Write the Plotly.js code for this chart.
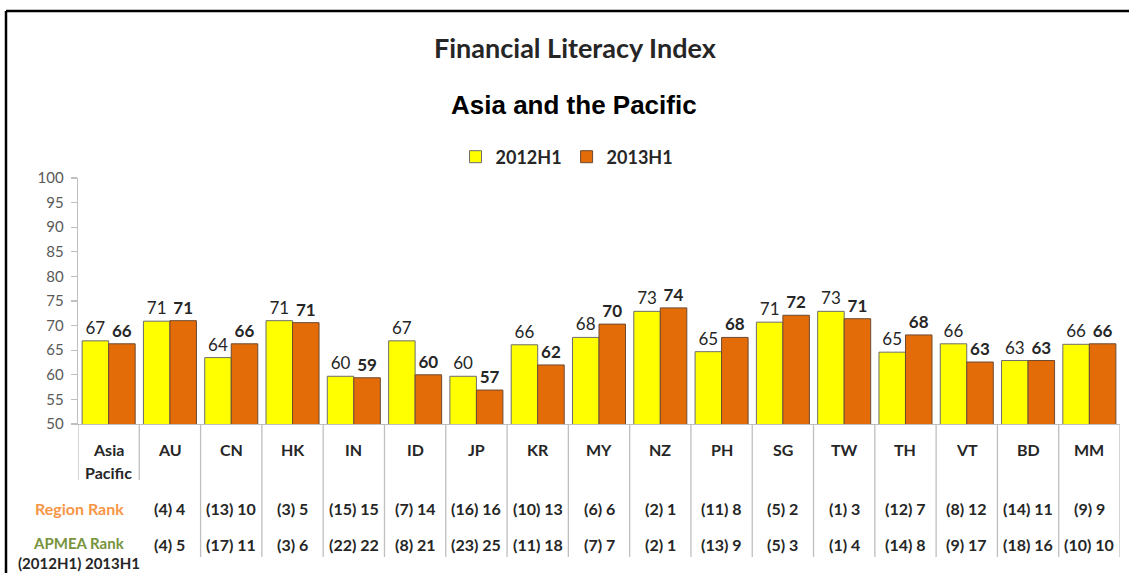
<!DOCTYPE html>
<html>
<head>
<meta charset="utf-8">
<script src="https://cdn.plot.ly/plotly-3.0.1.min.js"></script>
<style>
  html, body { margin: 0; padding: 0; background: #ffffff; }
  #chart { width: 1129px; height: 573px; }
</style>
</head>
<body>
<div id="chart"></div>
<script>
// ---------- data ----------
const categories = ['Asia Pacific','AU','CN','HK','IN','ID','JP','KR','MY','NZ','PH','SG','TW','TH','VT','BD','MM'];
const values2012 = [66.9, 70.9, 63.5, 71.0, 59.7, 66.9, 59.7, 66.1, 67.6, 72.9, 64.7, 70.7, 72.9, 64.6, 66.3, 62.9, 66.2];
const values2013 = [66.3, 71.0, 66.3, 70.6, 59.4, 60.0, 56.9, 62.0, 70.3, 73.6, 67.6, 72.1, 71.4, 68.1, 62.6, 62.9, 66.3];
const labels2012 = [67, 71, 64, 71, 60, 67, 60, 66, 68, 73, 65, 71, 73, 65, 66, 63, 66];
const labels2013 = [66, 71, 66, 71, 59, 60, 57, 62, 70, 74, 68, 72, 71, 68, 63, 63, 66];
const regionRank2012 = [null, 4, 13, 3, 15, 7, 16, 10, 6, 2, 11, 5, 1, 12, 8, 14, 9];
const regionRank2013 = [null, 4, 10, 5, 15, 14, 16, 13, 6, 1, 8, 2, 3, 7, 12, 11, 9];
const apmeaRank2012  = [null, 4, 17, 3, 22, 8, 23, 11, 7, 2, 13, 5, 1, 14, 9, 18, 10];
const apmeaRank2013  = [null, 5, 11, 6, 22, 21, 25, 18, 7, 1, 9, 3, 4, 8, 17, 16, 10];
const seriesNames = ['2012H1', '2013H1'];
const yTicks = [50, 55, 60, 65, 70, 75, 80, 85, 90, 95, 100];

// ---------- styling ----------
const W = 1129, H = 573;
const M = {l: 78, r: 9, t: 178, b: 149};
const plotW = W - M.l - M.r, plotH = H - M.t - M.b;
const px2x = px => (px - M.l) / plotW;          // pixel -> paper x
const px2y = py => (H - M.b - py) / plotH;      // pixel -> paper y
const FONT = 'Lato, "Open Sans", sans-serif';
const DARK = '#262626';
const GRID = '#bfbfbf';

const xIdx = categories.map((c, i) => i);

const traces = [
  {
    type: 'bar', name: seriesNames[0], x: xIdx, y: values2012,
    marker: {color: '#ffff00', line: {color: '#6d6d6d', width: 1}},
    text: labels2012.map(String), textposition: 'outside', cliponaxis: false,
    textfont: {family: FONT, size: 17, color: DARK}, hoverinfo: 'x+y'
  },
  {
    type: 'bar', name: seriesNames[1], x: xIdx, y: values2013,
    marker: {color: '#e36c09', line: {color: '#6d4a30', width: 1}},
    text: labels2013.map(v => '<b>' + v + '</b>'), textposition: 'outside', cliponaxis: false,
    textfont: {family: FONT, size: 17, color: DARK}, hoverinfo: 'x+y'
  }
];

const annotations = [];
// titles
annotations.push({xref: 'paper', yref: 'paper', x: px2x(575), y: px2y(47), xanchor: 'center', yanchor: 'middle',
  text: '<b>Financial Literacy Index</b>', showarrow: false, font: {family: FONT, size: 27, color: DARK}});
annotations.push({xref: 'paper', yref: 'paper', x: px2x(574), y: px2y(105), xanchor: 'center', yanchor: 'middle',
  text: '<b>Asia and the Pacific</b>', showarrow: false, font: {family: '"Liberation Sans", Arial, sans-serif', size: 26, color: '#000000'}});

// category labels (each word on its own line)
categories.forEach((c, i) => {
  c.split(' ').forEach((w, k) => {
    annotations.push({xref: 'x', yref: 'paper', x: i, y: px2y(449 + 23 * k), xanchor: 'center', yanchor: 'middle',
      text: '<b>' + w + '</b>', showarrow: false, font: {family: FONT, size: 16, color: DARK}});
  });
});
// rank rows
categories.forEach((c, i) => {
  if (regionRank2013[i] !== null) {
    annotations.push({xref: 'x', yref: 'paper', x: i, y: px2y(508), xanchor: 'center', yanchor: 'middle',
      text: '<b>(' + regionRank2012[i] + ') ' + regionRank2013[i] + '</b>', showarrow: false,
      font: {family: FONT, size: 16, color: DARK}});
  }
  if (apmeaRank2013[i] !== null) {
    annotations.push({xref: 'x', yref: 'paper', x: i, y: px2y(544), xanchor: 'center', yanchor: 'middle',
      text: '<b>(' + apmeaRank2012[i] + ') ' + apmeaRank2013[i] + '</b>', showarrow: false,
      font: {family: FONT, size: 16, color: DARK}});
  }
});
annotations.push({xref: 'paper', yref: 'paper', x: px2x(79), y: px2y(508), xanchor: 'center', yanchor: 'middle',
  text: '<b>Region Rank</b>', showarrow: false, font: {family: FONT, size: 16, color: '#f79646'}});
annotations.push({xref: 'paper', yref: 'paper', x: px2x(79), y: px2y(543), xanchor: 'center', yanchor: 'middle',
  text: '<b>APMEA Rank</b>', showarrow: false, font: {family: FONT, size: 15, color: '#77933c'}});
annotations.push({xref: 'paper', yref: 'paper', x: px2x(79), y: px2y(563), xanchor: 'center', yanchor: 'middle',
  text: '<b>(2012H1) 2013H1</b>', showarrow: false, font: {family: FONT, size: 15, color: DARK}});

// separators below the axis (category boundaries)
const shapes = [];
for (let i = 0; i <= categories.length; i++) {
  const bottom = (i <= 1) ? 480 : 557;
  shapes.push({type: 'line', xref: 'x', yref: 'paper', x0: i - 0.5, x1: i - 0.5, y0: 0, y1: px2y(bottom),
    line: {color: GRID, width: 1.3}});
}
// outer frame (top and left visible)
shapes.push({type: 'line', xref: 'paper', yref: 'paper', x0: px2x(6), x1: px2x(1135), y0: px2y(11), y1: px2y(11),
  line: {color: '#000000', width: 2.5}});
shapes.push({type: 'line', xref: 'paper', yref: 'paper', x0: px2x(6), x1: px2x(6), y0: px2y(11), y1: px2y(580),
  line: {color: '#000000', width: 2.5}});

const layout = {
  width: W, height: H,
  margin: M,
  paper_bgcolor: '#ffffff', plot_bgcolor: '#ffffff',
  barmode: 'group', bargap: 0.135, bargroupgap: 0,
  showlegend: true,
  legend: {orientation: 'h', x: px2x(567), y: px2y(157), xanchor: 'center', yanchor: 'middle',
    font: {family: FONT, size: 18, color: DARK, weight: 'bold'}, itemwidth: 30, bgcolor: 'rgba(0,0,0,0)'},
  xaxis: {
    type: 'linear', range: [-0.5, categories.length - 0.5], showticklabels: false, ticks: '',
    showgrid: false, zeroline: false, showline: true, linecolor: GRID, linewidth: 1.3, fixedrange: true
  },
  yaxis: {
    range: [50, 100], tickvals: yTicks, ticks: 'outside', ticklen: 6, tickcolor: GRID, tickwidth: 1.3,
    showline: true, linecolor: GRID, linewidth: 1.3, showgrid: false, zeroline: false,
    tickfont: {family: FONT, size: 15, color: '#595959'}, ticklabelstandoff: 4, fixedrange: true
  },
  annotations: annotations,
  shapes: shapes
};

Plotly.newPlot('chart', traces, layout, {displayModeBar: false, staticPlot: true});
</script>
</body>
</html>
